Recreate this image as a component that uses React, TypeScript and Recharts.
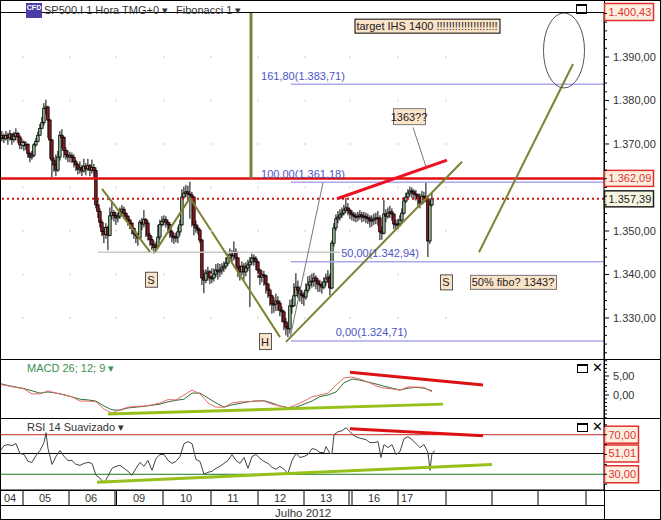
import { Bar, ComposedChart, Line, ReferenceDot, ReferenceLine, XAxis, YAxis } from "recharts";

const FONT = '"Liberation Sans", Arial, sans-serif';

// hourly candles, one every hour starting at hour 0
const closes = [
  1371.5, 1371.9, 1371.2, 1372.0, 1371.4, 1372.3, 1371.0, 1371.8, 1372.4, 1371.6,
  1369.8, 1370.4, 1369.6, 1369.9, 1367.8, 1367.0, 1367.4, 1369.8, 1370.6, 1372.0,
  1373.6, 1374.9, 1378.2, 1378.5, 1375.5, 1370.9, 1366.3, 1365.2, 1364.0, 1367.0,
  1372.0, 1371.5, 1368.5, 1367.5, 1367.0, 1367.3, 1366.9, 1365.9, 1365.2, 1364.2,
  1364.5, 1363.8, 1364.9, 1364.3, 1365.0, 1364.0, 1364.6, 1363.9, 1356.0, 1354.5,
  1352.0, 1349.9, 1349.2, 1350.8, 1349.0, 1353.5, 1354.2, 1353.6, 1353.0, 1353.4,
  1354.4, 1355.0, 1354.0, 1353.4, 1352.5, 1351.8, 1350.6, 1349.4, 1349.0, 1348.4,
  1352.0, 1351.6, 1352.6, 1351.8, 1349.0, 1348.0, 1346.9, 1346.2, 1346.5, 1348.6,
  1351.5, 1352.2, 1352.6, 1352.0, 1351.5, 1349.8, 1348.8, 1348.4, 1348.6, 1349.8,
  1351.4, 1357.8, 1358.7, 1359.0, 1358.5, 1358.3, 1357.8, 1351.4, 1350.7, 1350.2,
  1347.9, 1339.2, 1338.7, 1340.3, 1340.6, 1339.2, 1339.2, 1340.1, 1341.0, 1340.6,
  1341.0, 1341.5, 1341.9, 1342.6, 1343.8, 1344.5, 1344.3, 1345.2, 1343.8, 1341.5,
  1340.6, 1341.9, 1340.6, 1341.5, 1342.2, 1342.9, 1343.8, 1343.6, 1342.9, 1341.0,
  1339.4, 1339.9, 1339.7, 1337.8, 1336.4, 1335.1, 1333.2, 1333.2, 1333.9, 1333.4,
  1331.8, 1331.4, 1329.1, 1327.9, 1327.5, 1332.8, 1332.8, 1335.1, 1337.1, 1336.4,
  1335.5, 1335.1, 1334.8, 1336.4, 1337.6, 1338.3, 1338.5, 1339.2, 1338.5, 1337.8,
  1337.6, 1337.1, 1338.3, 1339.0, 1339.4, 1336.9, 1347.2, 1350.7, 1352.8, 1353.2,
  1353.7, 1354.1, 1354.8, 1355.3, 1354.8, 1354.1, 1353.7, 1353.4, 1353.2, 1353.4,
  1353.7, 1353.2, 1353.4, 1353.0, 1353.0, 1352.3, 1352.5, 1352.8, 1353.0, 1353.0,
  1349.8, 1349.5, 1353.9, 1353.4, 1354.1, 1354.4, 1353.9, 1351.6, 1351.4, 1351.6,
  1352.5, 1354.1, 1356.9, 1357.8, 1358.7, 1359.2, 1359.0, 1358.5, 1358.3, 1357.4,
  1356.4, 1358.0, 1357.8, 1357.4, 1347.7, 1356.0, 1357.39,
];
const highs = [
  1372.6, 1373.0, 1372.4, 1373.0, 1372.6, 1373.2, 1372.4, 1372.8, 1373.6, 1372.8,
  1372.0, 1371.2, 1370.8, 1370.6, 1370.2, 1368.2, 1368.4, 1370.2, 1371.4, 1372.8,
  1374.6, 1376.2, 1379.4, 1380.2, 1378.8, 1375.8, 1371.2, 1367.0, 1367.6, 1368.4,
  1373.0, 1373.4, 1371.8, 1369.2, 1368.6, 1368.2, 1368.0, 1367.6, 1366.4, 1365.6,
  1366.0, 1365.2, 1366.6, 1365.6, 1366.6, 1365.4, 1366.4, 1365.4, 1364.6, 1357.2,
  1355.2, 1352.6, 1351.0, 1351.8, 1351.2, 1355.4, 1356.8, 1354.8, 1354.4, 1354.2,
  1355.4, 1356.0, 1355.6, 1354.4, 1353.6, 1352.8, 1352.0, 1350.8, 1350.0, 1349.6,
  1352.6, 1353.0, 1354.8, 1353.0, 1352.4, 1349.6, 1348.8, 1347.8, 1347.4, 1351.4,
  1352.6, 1353.4, 1353.6, 1353.4, 1352.6, 1352.0, 1350.2, 1349.6, 1349.6, 1351.0,
  1352.6, 1359.6, 1360.2, 1360.6, 1360.4, 1361.3, 1359.0, 1358.0, 1352.4, 1351.4,
  1350.6, 1348.2, 1341.0, 1341.2, 1341.8, 1341.0, 1341.4, 1341.4, 1342.4, 1342.6,
  1342.4, 1342.6, 1343.0, 1344.0, 1344.8, 1346.0, 1345.6, 1347.6, 1346.0, 1344.0,
  1342.2, 1343.0, 1342.6, 1342.8, 1343.4, 1344.0, 1344.8, 1344.6, 1344.2, 1343.2,
  1341.4, 1341.0, 1340.8, 1340.0, 1338.0, 1336.8, 1335.4, 1334.8, 1335.6, 1335.0,
  1334.0, 1332.6, 1331.8, 1330.0, 1329.0, 1334.2, 1334.4, 1338.0, 1340.3, 1338.6,
  1337.2, 1336.4, 1336.0, 1338.0, 1339.6, 1339.8, 1340.2, 1340.4, 1339.8, 1339.2,
  1338.8, 1338.4, 1339.4, 1340.2, 1341.0, 1340.2, 1347.8, 1351.8, 1353.8, 1354.6,
  1355.0, 1355.4, 1356.0, 1357.6, 1356.4, 1355.2, 1354.8, 1354.4, 1354.2, 1354.4,
  1354.8, 1354.4, 1354.4, 1354.2, 1354.0, 1353.6, 1353.6, 1354.0, 1354.2, 1354.6,
  1353.6, 1351.0, 1357.1, 1355.0, 1355.4, 1355.8, 1355.2, 1354.0, 1352.6, 1352.8,
  1353.6, 1355.2, 1357.8, 1358.8, 1359.6, 1360.2, 1360.0, 1359.6, 1359.4, 1358.6,
  1358.6, 1359.2, 1359.0, 1361.3, 1358.2, 1357.0, 1358.7,
];
const lows = [
  1370.4, 1370.6, 1370.2, 1370.8, 1369.8, 1370.8, 1369.8, 1370.4, 1370.8, 1370.2,
  1368.8, 1368.8, 1368.4, 1368.6, 1366.8, 1365.8, 1366.4, 1367.0, 1369.4, 1370.4,
  1372.6, 1373.6, 1374.2, 1376.8, 1371.4, 1366.6, 1362.4, 1363.6, 1362.6, 1363.6,
  1366.2, 1369.0, 1366.8, 1366.4, 1365.8, 1365.8, 1365.6, 1364.6, 1363.8, 1363.0,
  1363.2, 1362.6, 1363.4, 1362.8, 1363.8, 1362.6, 1363.2, 1362.4, 1355.2, 1353.0,
  1350.8, 1348.8, 1347.2, 1348.2, 1345.6, 1348.8, 1352.6, 1352.2, 1351.4, 1352.0,
  1352.8, 1353.8, 1352.8, 1352.2, 1351.2, 1350.4, 1349.2, 1348.2, 1347.2, 1346.6,
  1348.0, 1350.2, 1350.8, 1348.6, 1347.8, 1346.6, 1345.6, 1344.8, 1345.2, 1346.0,
  1348.0, 1351.0, 1351.2, 1350.8, 1349.4, 1348.4, 1347.4, 1347.0, 1347.4, 1347.2,
  1349.0, 1351.2, 1357.4, 1357.8, 1357.2, 1352.8, 1351.0, 1349.0, 1349.6, 1349.2,
  1347.2, 1337.6, 1335.7, 1338.0, 1338.6, 1337.8, 1338.0, 1338.4, 1339.4, 1338.8,
  1339.4, 1340.0, 1340.6, 1341.2, 1342.0, 1343.4, 1342.6, 1343.2, 1341.2, 1339.4,
  1338.6, 1339.8, 1338.8, 1339.6, 1340.8, 1332.5, 1342.2, 1342.0, 1341.0, 1339.2,
  1337.6, 1338.2, 1337.4, 1335.6, 1334.6, 1332.8, 1331.0, 1331.2, 1331.6, 1331.6,
  1330.4, 1329.0, 1327.2, 1326.0, 1325.6, 1326.4, 1331.0, 1332.6, 1335.4, 1334.6,
  1333.8, 1333.2, 1332.8, 1334.2, 1335.8, 1336.6, 1337.0, 1337.2, 1336.6, 1336.0,
  1336.0, 1335.6, 1336.6, 1337.4, 1338.0, 1335.2, 1336.6, 1346.4, 1350.0, 1351.8,
  1352.4, 1353.0, 1353.6, 1354.2, 1353.6, 1352.8, 1352.4, 1352.2, 1352.0, 1352.2,
  1352.6, 1352.0, 1352.2, 1351.8, 1351.6, 1350.8, 1351.0, 1351.4, 1351.6, 1351.2,
  1347.9, 1348.0, 1349.2, 1352.0, 1352.8, 1353.0, 1352.4, 1350.4, 1350.4, 1350.4,
  1351.0, 1352.2, 1353.8, 1356.4, 1357.4, 1358.0, 1357.6, 1357.2, 1357.0, 1355.8,
  1355.2, 1356.0, 1356.4, 1356.6, 1344.0, 1347.0, 1355.6,
];

// MACD, one reading every 4 hours
const macdFast = [
  2.8, 2.4, 2.0, 1.6, 0.3, 0.3, 1.1, 0.5, 0.0, -0.5, -1.6, -1.6, -1.8, -3.7, -4.7, -3.9,
  -3.2, -3.0, -2.9, -2.6, -2.1, -1.2, -1.3, 0.0, 1.3, 0.3, -2.1, -3.2, -3.2, -2.1, -1.8, -1.8,
  -1.5, -1.6, -2.4, -2.9, -3.4, -2.6, -1.6, -0.5, 0.0, 0.5, 2.6, 4.5, 4.7, 4.2, 3.4, 2.4,
  1.8, 1.6, 1.3, 2.1, 2.1, 2.0, 0.8,
];
const macdSlow = [
  3.0, 2.5, 2.1, 1.7, 1.1, 0.5, 0.8, 0.5, 0.1, -0.5, -1.1, -1.3, -1.6, -2.9, -3.9, -4.0,
  -3.4, -3.2, -3.0, -2.7, -2.4, -1.8, -1.4, -1.1, 0.5, 0.5, -0.8, -2.1, -3.2, -2.6, -2.2, -1.8,
  -1.6, -1.5, -2.1, -2.9, -3.3, -3.2, -2.4, -1.6, -0.4, 0.0, 0.8, 3.2, 4.2, 3.9, 3.4, 2.9,
  2.3, 1.8, 1.3, 1.8, 2.0, 1.8, 1.1,
];

// RSI readings, uneven spacing where the line turns sharply
const rsiHours = [
  0, 2, 4, 6, 8, 10, 12, 14, 16, 18, 20, 22, 23, 24, 26, 28, 30, 32, 34, 36, 38, 40, 42, 44, 46, 48, 50, 52, 54, 56,
  58, 60, 62, 64, 66, 68, 70, 72, 74, 76, 78, 80, 82, 84, 86, 88, 90, 92, 94, 96, 98, 100, 102, 104, 106, 108, 110,
  112, 114, 116, 118, 120, 122, 124, 126, 128, 130, 132, 134, 136, 138, 140, 142, 144, 146, 148, 150, 152, 154, 156,
  158, 160, 162, 163, 165, 166, 167, 169, 171, 173, 175, 177, 179, 181, 183, 185, 187, 189, 190.5, 192, 194, 196,
  198, 200, 202, 204, 206, 208, 210, 212, 214, 215, 216, 217.5,
];
const rsiValues = [
  53, 59, 60, 59, 61, 51, 50, 43, 42, 49, 54, 62, 72, 56, 40, 48, 54, 48, 44, 44, 40, 39, 41, 42, 41, 29, 26, 21, 28, 36,
  38, 39, 36, 33, 29, 36, 42, 38, 44, 34, 46, 50, 50, 44, 41, 43, 48, 61, 63, 61, 45, 43, 30, 32, 33, 36, 38,
  41, 44, 50, 44, 41, 47, 36, 48, 50, 46, 43, 41, 37, 35, 38, 35, 31, 44, 51, 47, 48, 50, 56,
  55, 52, 52, 58, 51, 51, 70, 73, 74, 77, 73, 69, 67, 66, 65, 62, 62, 63, 47, 60, 57, 60,
  50, 53, 66, 68, 65, 61, 57, 60, 52, 34, 51, 54,
];

const priceTicks = [
  1322, 1324, 1326, 1328, 1330, 1332, 1334, 1336, 1338, 1340, 1342, 1344, 1346, 1348, 1350, 1352, 1354, 1356, 1358, 1360,
  1362, 1364, 1366, 1368, 1370, 1372, 1374, 1376, 1378, 1380, 1382, 1384, 1386, 1388, 1390, 1392, 1394, 1396, 1398, 1400,
];
const priceLabels = [1330, 1340, 1350, 1370, 1380, 1390];
const priceGrid = [1330, 1340, 1350, 1360, 1370, 1380, 1390];
const macdTicks = [-6, -5, -4, -3, -2, -1, 0, 1, 2, 3, 4, 5, 6, 7, 8, 9];
const rsiTicks = [20, 30, 40, 50, 60, 70, 80];

const dayBoundaries = [11.5, 34.5, 57.5, 58.25, 81.5, 105.5, 129, 152, 174.5, 176, 199, 223, 246, 269, 293];
const dayCenters = [5, 22.5, 45.5, 69.5, 93, 116.5, 140, 163, 187, 203.5];
const dayLabels = ["04", "05", "06", "09", "10", "11", "12", "13", "16", "17"];
const gridHours = [11.5, 35, 58, 82, 105.5, 129, 152.5, 175, 199, 223];

const fiboLevels = [1383.71, 1361.18, 1342.94, 1324.71];
const fiboTexts = [
  { hour: 151.5, price: 1384.7, text: "161,80(1.383,71)" },
  { hour: 151.5, price: 1362.1, text: "100,00(1.361,18)" },
  { hour: 190, price: 1344.0, text: "50,00(1.342,94)" },
  { hour: 185.75, price: 1325.9, text: "0,00(1.324,71)" },
];

const OLIVE = "#808033";
const trendLines = [
  { from: [51, 1359.7], to: [75, 1345.2], color: OLIVE, width: 2 },
  { from: [77.5, 1345.2], to: [95, 1357.6], color: OLIVE, width: 2 },
  { from: [95, 1357.6], to: [140, 1325.6], color: OLIVE, width: 2 },
  { from: [143, 1324.5], to: [231, 1365.9], color: OLIVE, width: 2 },
  { from: [239.5, 1345.1], to: [286.5, 1388.4], color: OLIVE, width: 2 },
  { from: [125.5, 1400.34], to: [125.5, 1362.09], color: OLIVE, width: 3 },
  { from: [145, 1325.4], to: [161.5, 1361.1], color: "#777777", width: 1 },
  { from: [206.5, 1373.8], to: [213, 1364.8], color: "#777777", width: 1 },
  { from: [168.5, 1357.4], to: [223.5, 1366.3], color: "#ee1122", width: 3 },
];
const macdTrends = [
  { from: [54, -5.0], to: [221.5, -2.4], color: "#95c11a", width: 3 },
  { from: [175, 6.0], to: [241.5, 2.6], color: "#dd1111", width: 3 },
];
const rsiTrends = [
  { from: [48.5, 22], to: [246, 40], color: "#95c11a", width: 3 },
  { from: [175, 76], to: [241.5, 69], color: "#dd1111", width: 3 },
];

const noteBoxes = [
  { hour: 213.5, price: 1397.2, w: 145, h: 14, text: "target IHS 1400 !!!!!!!!!!!!!!!!!!!!", border: "#000000" },
  { hour: 204.5, price: 1376.4, w: 32, h: 16, text: "1363??", border: "#777777" },
  { hour: 75.5, price: 1338.9, w: 12, h: 15, text: "S", border: "#555555" },
  { hour: 132.5, price: 1324.7, w: 12, h: 16, text: "H", border: "#555555" },
  { hour: 223, price: 1338.3, w: 12, h: 15, text: "S", border: "#555555" },
  { hour: 256.5, price: 1338.3, w: 86, h: 14, text: "50% fibo? 1343?", border: "#777777" },
];

const candleRows = closes.map((close, hour) => ({
  hour,
  range: [lows[hour], highs[hour]],
  open: hour === 0 ? 1371.2 : closes[hour - 1],
  close,
  high: highs[hour],
  low: lows[hour],
}));
const macdRows = macdFast.map((fast, i) => ({ hour: i * 4, fast, slow: macdSlow[i] }));
const rsiRows = rsiValues.map((rsi, i) => ({ hour: rsiHours[i], rsi }));

function Candle(props: any) {
  const { x, y, width, height, payload } = props;
  const { open, close, high, low } = payload;
  const perUnit = height / (high - low || 1);
  const top = y + (high - Math.max(open, close)) * perUnit;
  const bodyH = Math.max(Math.abs(open - close) * perUnit, 1);
  const mid = x + width / 2;
  return (
    <g>
      <line x1={mid} x2={mid} y1={y} y2={y + height} stroke="#000000" strokeWidth={1} />
      <rect
        x={mid - 1.25}
        y={top}
        width={2.5}
        height={bodyH}
        fill={close >= open ? "#8fb58f" : "#96161c"}
        stroke="#000000"
        strokeWidth={0.8}
      />
    </g>
  );
}

function axisTick(isMajor: (v: number) => boolean, format: (v: number) => string) {
  return (props: any) => {
    const { x, y, payload } = props;
    const major = isMajor(payload.value);
    return (
      <g>
        <line x1={x} x2={x + (major ? 5 : 3)} y1={y} y2={y} stroke="#000000" />
        {major && (
          <text x={x + 9} y={y + 4} fontFamily={FONT} fontSize={11} fill="#333333">
            {format(payload.value)}
          </text>
        )}
      </g>
    );
  };
}

function Tag({ cx, cy, w, text, color, fill, h }: any) {
  return (
    <g>
      <rect x={cx + 0.5} y={cy - h / 2} width={w} height={h} fill={fill} stroke={color} strokeWidth={1.5} />
      <text x={cx + 4.5} y={cy + 4} fontFamily={FONT} fontSize={11} fill={color}>
        {text}
      </text>
    </g>
  );
}

function NoteBox({ cx, cy, w, h, text, border }: any) {
  return (
    <g>
      <rect x={cx - w / 2 + 0.5} y={cy - h / 2 + 0.5} width={w} height={h} fill="#fbe3c8" stroke={border} />
      <text x={cx} y={cy + 4.5} textAnchor="middle" fontFamily={FONT} fontSize={11} fill="#222222">
        {text}
      </text>
    </g>
  );
}

function Rule({ left, top, width, height, color = "#000000" }: any) {
  return <div style={{ position: "absolute", left, top, width, height, background: color }} />;
}

function Caption({ left, top, color = "#333333", children, size = 11 }: any) {
  return (
    <div style={{ position: "absolute", left, top, color, fontFamily: FONT, fontSize: size, lineHeight: "14px", whiteSpace: "nowrap" }}>
      {children}
    </div>
  );
}

function WindowIcons({ top }: { top: number }) {
  return (
    <>
      <div style={{ position: "absolute", left: 577, top, width: 9, height: 6, border: "1px solid #000", borderTopWidth: 2 }} />
      <Caption left={592} top={top - 3} color="#000000" size={13}>
        ✕
      </Caption>
    </>
  );
}

function dayTick(props: any) {
  const { x, y, payload } = props;
  const centerIndex = dayCenters.indexOf(payload.value);
  if (centerIndex >= 0) {
    return (
      <text x={x} y={y + 12} textAnchor="middle" fontFamily={FONT} fontSize={11} fill="#333333">
        {dayLabels[centerIndex]}
      </text>
    );
  }
  return <line x1={x} x2={x} y1={y} y2={y + 15} stroke="#000000" />;
}

export default function App() {
  return (
    <div style={{ position: "absolute", left: 0, top: 0, width: 661, height: 520, background: "#ffffff", overflow: "hidden" }}>
      <div style={{ position: "absolute", left: 0, top: 0 }}>
        <ComposedChart
          width={661}
          height={359}
          data={candleRows}
          margin={{ top: 12, right: 0, bottom: 0, left: 0 }}
        >
          <XAxis dataKey="hour" type="number" domain={[0, 302]} hide />
          <YAxis
            orientation="right"
            width={57}
            type="number"
            domain={[1320.57, 1400.34]}
            ticks={priceTicks}
            interval={0}
            tickLine={false}
            tickSize={0}
            tickMargin={0}
            axisLine={{ stroke: "#000000" }}
            tick={axisTick((v) => priceLabels.includes(v), (v) => `1.${v - 1000},00`)}
          />
          {gridHours.map((hour) =>
            priceGrid.map((price) => (
              <ReferenceDot
                key={`${hour}-${price}`}
                x={hour}
                y={price}
                r={1}
                fill="#dddddd"
                stroke="none"
              />
            )),
          )}
          <ReferenceLine segment={[{ x: 49, y: 1345.1 }, { x: 170, y: 1345.1 }]} stroke="#c8c8c8" strokeWidth={1.5} />
          {fiboLevels.map((level) => (
            <ReferenceLine
              key={level}
              segment={[{ x: 145.5, y: level }, { x: 302, y: level }]}
              stroke="#a9a9ee"
              strokeWidth={1.5}
            />
          ))}
          <Bar dataKey="range" barSize={3} isAnimationActive={false} shape={<Candle />} />
          <ReferenceLine y={1362.09} stroke="#e01010" strokeWidth={2.5} />
          <ReferenceLine y={1357.39} stroke="#cc1111" strokeWidth={2} strokeDasharray="2 3" />
          {trendLines.map((t, i) => (
            <ReferenceLine
              key={i}
              segment={[{ x: t.from[0], y: t.from[1] }, { x: t.to[0], y: t.to[1] }]}
              stroke={t.color}
              strokeWidth={t.width}
            />
          ))}
          <ReferenceDot
            x={282}
            y={1391.5}
            ifOverflow="visible"
            shape={(p: any) => <ellipse cx={p.cx} cy={p.cy} rx={20.5} ry={37.5} fill="none" stroke="#555555" />}
          />
          {fiboTexts.map((f) => (
            <ReferenceDot
              key={f.text}
              x={f.hour}
              y={f.price}
              shape={(p: any) => (
                <text x={p.cx} y={p.cy} textAnchor="middle" fontFamily={FONT} fontSize={11} fill="#4a55c4">
                  {f.text}
                </text>
              )}
            />
          ))}
          {noteBoxes.map((n) => (
            <ReferenceDot key={n.text + n.hour} x={n.hour} y={n.price} shape={(p: any) => <NoteBox {...p} {...n} />} />
          ))}
          <ReferenceDot
            x={302}
            y={1400.34}
            ifOverflow="visible"
            shape={(p: any) => <Tag {...p} w={49} h={17} text="1.400,43" color="#e03030" fill="#fdf0e0" />}
          />
          <ReferenceDot
            x={302}
            y={1362.09}
            ifOverflow="visible"
            shape={(p: any) => <Tag {...p} w={49} h={16} text="1.362,09" color="#e03030" fill="#fdf0e0" />}
          />
          <ReferenceDot
            x={302}
            y={1357.39}
            ifOverflow="visible"
            shape={(p: any) => <Tag {...p} w={49} h={16} text="1.357,39" color="#222222" fill="#f6f6e0" />}
          />
        </ComposedChart>
      </div>

      <div style={{ position: "absolute", left: 0, top: 359 }}>
        <ComposedChart width={661} height={59} data={macdRows} margin={{ top: 0, right: 0, bottom: 0, left: 0 }}>
          <XAxis dataKey="hour" type="number" domain={[0, 302]} hide />
          <YAxis
            orientation="right"
            width={57}
            type="number"
            domain={[-6.05, 9.47]}
            ticks={macdTicks}
            interval={0}
            tickLine={false}
            tickSize={0}
            tickMargin={0}
            axisLine={{ stroke: "#000000" }}
            tick={axisTick((v) => v === 0 || v === 5, (v) => `${v},00`)}
          />
          <Line dataKey="slow" stroke="#2f6f3a" strokeWidth={1} dot={false} isAnimationActive={false} />
          <Line dataKey="fast" stroke="#e86a6a" strokeWidth={1} dot={false} isAnimationActive={false} />
          {macdTrends.map((t, i) => (
            <ReferenceLine
              key={i}
              segment={[{ x: t.from[0], y: t.from[1] }, { x: t.to[0], y: t.to[1] }]}
              stroke={t.color}
              strokeWidth={t.width}
            />
          ))}
        </ComposedChart>
      </div>

      <div style={{ position: "absolute", left: 0, top: 418 }}>
        <ComposedChart width={661} height={87} data={rsiRows} margin={{ top: 0, right: 0, bottom: 0, left: 0 }}>
          <XAxis
            dataKey="hour"
            type="number"
            domain={[0, 302]}
            height={15}
            ticks={[...dayBoundaries, ...dayCenters]}
            interval={0}
            tickLine={false}
            tickSize={0}
            tickMargin={0}
            axisLine={{ stroke: "#000000" }}
            tick={dayTick}
          />
          <YAxis
            orientation="right"
            width={57}
            type="number"
            domain={[14.1, 86.9]}
            ticks={rsiTicks}
            interval={0}
            tickLine={false}
            tickSize={0}
            tickMargin={0}
            axisLine={{ stroke: "#000000" }}
            tick={axisTick(() => false, (v) => String(v))}
          />
          <ReferenceLine y={70} stroke="#cc2222" />
          <ReferenceLine y={51.01} stroke="#000000" />
          <ReferenceLine y={30} stroke="#1b7a1b" />
          <Line dataKey="rsi" stroke="#444444" strokeWidth={1} dot={false} isAnimationActive={false} />
          {rsiTrends.map((t, i) => (
            <ReferenceLine
              key={i}
              segment={[{ x: t.from[0], y: t.from[1] }, { x: t.to[0], y: t.to[1] }]}
              stroke={t.color}
              strokeWidth={t.width}
            />
          ))}
          <ReferenceDot x={302} y={70} ifOverflow="visible" shape={(p: any) => <Tag {...p} w={34} h={17} text="70,00" color="#e03030" fill="#fdf0e0" />} />
          <ReferenceDot x={302} y={51.01} ifOverflow="visible" shape={(p: any) => <Tag {...p} w={34} h={17} text="51,01" color="#e03030" fill="#fdf0e0" />} />
          <ReferenceDot x={302} y={30} ifOverflow="visible" shape={(p: any) => <Tag {...p} w={34} h={17} text="30,00" color="#e03030" fill="#fdf0e0" />} />
        </ComposedChart>
      </div>

      {/* frame */}
      <Rule left={0} top={0} width={661} height={1} />
      <Rule left={0} top={0} width={1} height={520} />
      <Rule left={660} top={0} width={1} height={520} />
      <Rule left={0} top={519} width={661} height={1} />
      <Rule left={0} top={12} width={604} height={1} />
      <Rule left={0} top={359} width={661} height={1} />
      <Rule left={0} top={418} width={661} height={1} />
      <Rule left={0} top={490} width={661} height={1} />
      <Rule left={0} top={505} width={604} height={1} />
      <Rule left={604} top={0} width={1} height={3} />
      <Rule left={604} top={21} width={1} height={150} />
      <Rule left={604} top={207} width={1} height={220} />
      <Rule left={604} top={484} width={1} height={36} />

      {/* header */}
      <div style={{ position: "absolute", left: 26, top: 3, width: 16, height: 15, background: "#4a3fa8", color: "#fff", fontFamily: FONT, fontSize: 7, fontWeight: 700, lineHeight: "10px", textAlign: "center" }}>
        CFD
      </div>
      <Caption left={44} top={3}>SP500.I 1 Hora TMG+0 ▾</Caption>
      <Caption left={176} top={3}>Fibonacci 1 ▾</Caption>
      <div style={{ position: "absolute", left: 576, top: 4, width: 9, height: 7, border: "1px solid #000", borderTopWidth: 2 }} />

      <Caption left={27} top={361} color="#3d8f4f">MACD 26; 12; 9 ▾</Caption>
      <Caption left={27} top={420}>RSI 14 Suavizado ▾</Caption>
      <WindowIcons top={364} />
      <WindowIcons top={423} />
      <Caption left={275} top={506} size={11.5}>Julho 2012</Caption>
    </div>
  );
}
